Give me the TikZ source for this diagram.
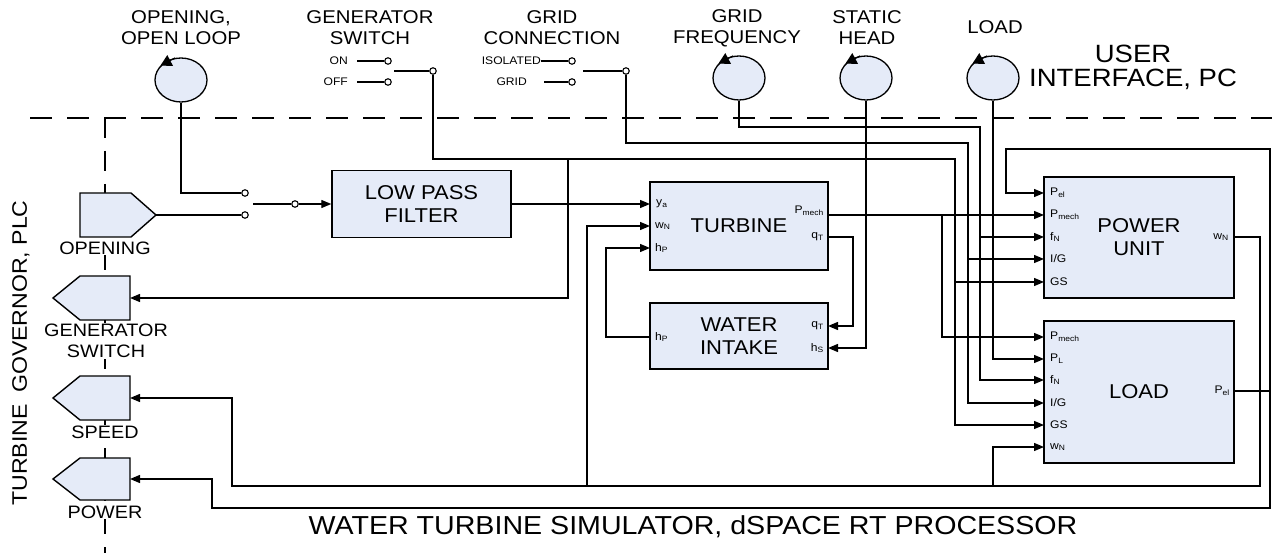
\documentclass[tikz,border=0pt]{standalone}
\usepackage{fontspec}
\setmainfont{Liberation Sans}[FakeStretch=1.1]
\usepackage{tikz}
\usetikzlibrary{arrows.meta, shapes.geometric}
\definecolor{blockblue}{RGB}{229,235,248}

\tikzset{
  block/.style={draw, line width=1.4pt, fill=blockblue, inner sep=0pt, align=center, font=\fontsize{20}{23}\selectfont},
  knob/.style={ellipse, draw, line width=1.3pt, fill=blockblue, minimum width=52pt, minimum height=44pt, inner sep=0pt},
  knobtip/.style={-{Triangle[length=11pt,width=12pt]}, line width=1.2pt},
  wire/.style={line width=1.3pt},
  sig/.style={wire, -{Triangle[length=10pt,width=8pt]}},
  io/.style={draw, line width=1.4pt, fill=blockblue},
  contact/.style={circle, draw, line width=1.1pt, fill=white, inner sep=0pt, minimum size=6.5pt},
  portl/.style={inner sep=0pt, anchor=west, font=\fontsize{11}{13}\selectfont},
  portr/.style={inner sep=0pt, anchor=east, font=\fontsize{11}{13}\selectfont},
  swlabel/.style={inner sep=0pt, anchor=east, font=\fontsize{11}{13}\selectfont},
  toplabel/.style={align=center, font=\fontsize{18.5}{21}\selectfont},
  iolabel/.style={align=center, fill=white, inner sep=1pt, font=\fontsize{18}{21}\selectfont},
}

\begin{document}
\begin{tikzpicture}[x=1pt, y=-1pt]
    \useasboundingbox (0,0) rectangle (1272,553);

    % Borders between the parts
    \draw[line width=2.6pt, dash pattern=on 22pt off 15pt] (30,118) -- (1272,118);
    \draw[line width=2.6pt, dash pattern=on 20pt off 13pt] (105,118) -- (105,553);

    % Part titles
    \node[font=\fontsize{25}{24}\selectfont, align=center] (tpc) at (1133,67) {USER\\INTERFACE, PC};
    \node[font=\fontsize{26}{28}\selectfont] (tsim) at (693,527) {WATER TURBINE SIMULATOR, dSPACE RT PROCESSOR};
    \node[rotate=90, font=\fontsize{21}{24}\selectfont] (tplc) at (21,353) {TURBINE\hspace{5pt} GOVERNOR, PLC};

    % Knobs
    \node[toplabel] (lopen) at (181,28) {OPENING,\\OPEN LOOP};
    \node[toplabel] (lfreq) at (737,28) {GRID\\FREQUENCY};
    \node[toplabel] (lhead) at (867,28) {STATIC\\HEAD};
    \node[toplabel] (lload) at (995,27) {LOAD};
    \node[knob] (kopen) at (181,80) {};
    \node[knob] (kfreq) at (739,78) {};
    \node[knob] (khead) at (866,78) {};
    \node[knob] (kload) at (993,78) {};
    \foreach \k in {kopen,kfreq,khead,kload}
        \draw[knobtip] (\k.105) -- (\k.145);

    % Generator switch
    \node[toplabel] (lgen) at (370,28) {GENERATOR\\SWITCH};
    \node[swlabel] (ton) at (348,61) {ON};
    \node[swlabel] (toff) at (348,82) {OFF};
    \node[contact] (con) at (388,61) {};
    \node[contact] (coff) at (388,82) {};
    \node[contact] (cgs) at (433,71) {};
    \coordinate (gsarm) at (394,71);
    \draw[wire] ([xshift=-27pt]con.west) -- (con);
    \draw[wire] ([xshift=-27pt]coff.west) -- (coff);
    \draw[wire] (gsarm) -- (cgs);

    % Grid connection switch
    \node[toplabel] (lgrid) at (552,28) {GRID\\CONNECTION};
    \node[swlabel] (tiso) at (541,61) {ISOLATED};
    \node[swlabel] (tgrid) at (527,82) {GRID};
    \node[contact] (ciso) at (572,61) {};
    \node[contact] (cgrd) at (572,82) {};
    \node[contact] (cgrid) at (626,71) {};
    \coordinate (gridarm) at (583,71);
    \draw[wire] ([xshift=-27pt]ciso.west) -- (ciso);
    \draw[wire] ([xshift=-24pt]cgrd.west) -- (cgrd);
    \draw[wire] (gridarm) -- (cgrid);

    % PLC inputs and outputs
    \draw[io] (80,193) -- (131,193) -- (156,215) -- (131,237) -- (80,237) -- cycle;
    \draw[io] (130,276) -- (80,276) -- (53,298) -- (80,320) -- (130,320) -- cycle;
    \draw[io] (130,376) -- (80,376) -- (53,398) -- (80,420) -- (130,420) -- cycle;
    \draw[io] (130,458) -- (80,458) -- (53,479) -- (80,500) -- (130,500) -- cycle;
    \coordinate (popen) at (156,215);
    \coordinate (pgs) at (130,298);
    \coordinate (pspeed) at (130,398);
    \coordinate (ppower) at (130,479);
    \node[iolabel] (lpopen) at (105,248) {OPENING};
    \node[iolabel] (lpgs) at (106,341) {GENERATOR\\SWITCH};
    \node[iolabel] (lpspeed) at (105,432) {SPEED};
    \node[iolabel] (lppower) at (105,512) {POWER};

    % Opening selector
    \node[contact] (csa) at (245,193) {};
    \node[contact] (csb) at (245,215) {};
    \node[contact] (csc) at (295,204) {};
    \coordinate (oparm) at (253,204);
    \draw[wire] (kopen) |- (csa);
    \draw[wire] (popen) -- (csb);
    \draw[line width=2.3pt] (oparm) -- (csc);

    % Blocks
    \node[block, minimum width=179pt, minimum height=67pt] (lpf) at (421.5,204) {LOW PASS\\FILTER};
    \node[block, minimum width=178pt, minimum height=88pt] (turb) at (739,226) {TURBINE};
    \node[block, minimum width=178pt, minimum height=66pt] (wint) at (739,336) {WATER\\INTAKE};
    \node[block, minimum width=190pt, minimum height=121pt] (pu) at (1139,237.5) {POWER\\UNIT};
    \node[block, minimum width=190pt, minimum height=142pt] (load) at (1139,392) {LOAD};

    % Ports
    \coordinate (tb-ya) at (650,204);
    \coordinate (tb-wn) at (650,226);
    \coordinate (tb-hp) at (650,248);
    \coordinate (tb-pm) at (828,215);
    \coordinate (tb-qt) at (828,237);
    \coordinate (wi-hp) at (650,337);
    \coordinate (wi-qt) at (828,326);
    \coordinate (wi-hs) at (828,348);
    \coordinate (pu-pel) at (1044,193);
    \coordinate (pu-pm) at (1044,215);
    \coordinate (pu-fn) at (1044,237);
    \coordinate (pu-ig) at (1044,259);
    \coordinate (pu-gs) at (1044,282);
    \coordinate (pu-wn) at (1234,237);
    \coordinate (ld-pm) at (1044,337);
    \coordinate (ld-pl) at (1044,359);
    \coordinate (ld-fn) at (1044,380);
    \coordinate (ld-ig) at (1044,403);
    \coordinate (ld-gs) at (1044,425);
    \coordinate (ld-wn) at (1044,447);
    \coordinate (ld-pel) at (1234,391);

    % Port labels
    \node[portl] (ltbya) at (656,204) {y\textsubscript{a}};
    \node[portl] (ltbwn) at (655,226) {w\textsubscript{N}};
    \node[portl] (ltbhp) at (655,248) {h\textsubscript{P}};
    \node[portr] (ltbpm) at (824,211) {P\textsubscript{mech}};
    \node[portr] (ltbqt) at (824,237) {q\textsubscript{T}};
    \node[portl] (lwihp) at (655,337) {h\textsubscript{P}};
    \node[portr] (lwiqt) at (824,326) {q\textsubscript{T}};
    \node[portr] (lwihs) at (824,348) {h\textsubscript{S}};
    \node[portl] (lpupel) at (1050,193) {P\textsubscript{el}};
    \node[portl] (lpupm) at (1050,215) {P\textsubscript{mech}};
    \node[portl] (lpufn) at (1050,237) {f\textsubscript{N}};
    \node[portl] (lpuig) at (1050,259) {I/G};
    \node[portl] (lpugs) at (1050,282) {GS};
    \node[portr] (lpuwn) at (1229,237) {w\textsubscript{N}};
    \node[portl] (lldpm) at (1050,337) {P\textsubscript{mech}};
    \node[portl] (lldpl) at (1050,359) {P\textsubscript{L}};
    \node[portl] (lldfn) at (1050,380) {f\textsubscript{N}};
    \node[portl] (lldig) at (1050,403) {I/G};
    \node[portl] (lldgs) at (1050,425) {GS};
    \node[portl] (lldwn) at (1050,447) {w\textsubscript{N}};
    \node[portr] (lldpel) at (1230,391) {P\textsubscript{el}};

    % Opening path
    \draw[sig] (csc) -- (lpf);
    \draw[sig] (lpf.east) -- (tb-ya);

    % Generator switch signal
    \coordinate (gsbend) at (955,159);
    \coordinate (gstap) at (568,159);
    \draw[sig] (cgs) |- (gsbend) |- (ld-gs);
    \draw[sig] (gsbend |- pu-gs) -- (pu-gs);
    \draw[sig] (gstap) |- (pgs);

    % Grid connection signal
    \coordinate (igbend) at (968,143);
    \draw[sig] (cgrid) |- (igbend) |- (ld-ig);
    \draw[sig] (igbend |- pu-ig) -- (pu-ig);

    % Grid frequency signal
    \coordinate (fnbend) at (980,127);
    \draw[sig] (kfreq) |- (fnbend) |- (ld-fn);
    \draw[sig] (fnbend |- pu-fn) -- (pu-fn);

    % Static head and load
    \draw[sig] (khead) |- (wi-hs);
    \draw[sig] (kload) |- (ld-pl);

    % Turbine and water intake
    \coordinate (pmtap) at (942,215);
    \coordinate (qtbend) at (853,237);
    \coordinate (hpbend) at (606,337);
    \draw[sig] (tb-pm) -- (pu-pm);
    \draw[sig] (pmtap) |- (ld-pm);
    \draw[sig] (tb-qt) -- (qtbend) |- (wi-qt);
    \draw[sig] (wi-hp) -- (hpbend) |- (tb-hp);

    % Speed
    \coordinate (wnright) at (1260,486);
    \coordinate (wnleft) at (232,486);
    \coordinate (wntapa) at (587,486);
    \coordinate (wntapb) at (993,486);
    \draw[sig] (pu-wn) -| (wnright) -- (wnleft) |- (pspeed);
    \draw[sig] (wntapa) |- (tb-wn);
    \draw[sig] (wntapb) |- (ld-wn);

    % Electric power
    \coordinate (pelright) at (1270,508);
    \coordinate (pelleft) at (212,508);
    \coordinate (peltop) at (1270,149);
    \coordinate (pelfb) at (1006,149);
    \draw[sig] (ld-pel) -| (pelright) -- (pelleft) |- (ppower);
    \draw[sig] (ld-pel) -| (peltop) -- (pelfb) |- (pu-pel);
\end{tikzpicture}
\end{document}
